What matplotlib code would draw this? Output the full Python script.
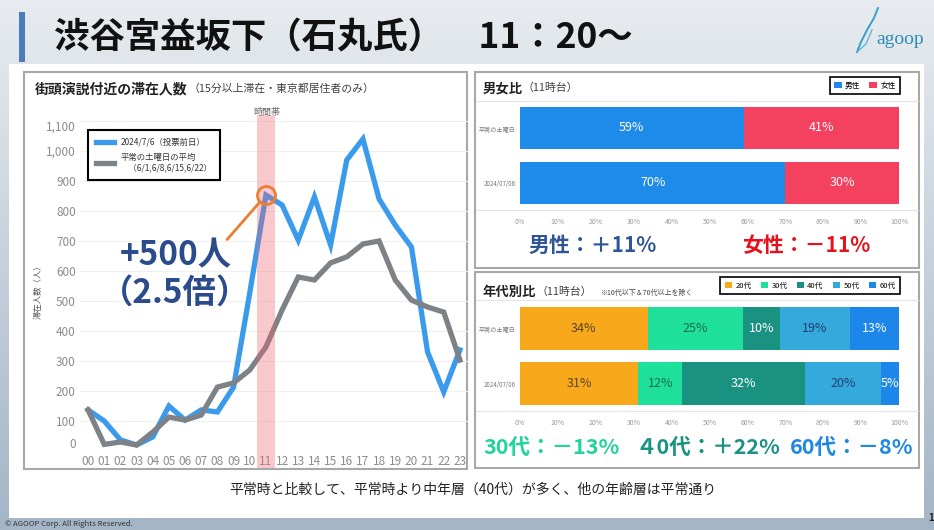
import numpy as np
import matplotlib
matplotlib.use("Agg")
import matplotlib.pyplot as plt
from matplotlib.patches import Rectangle

plt.rcParams['font.family'] = ['Noto Sans CJK JP', 'DejaVu Sans']

# 滞在人数（時間帯別）
hours = ["00", "01", "02", "03", "04", "05", "06", "07", "08", "09", "10", "11",
         "12", "13", "14", "15", "16", "17", "18", "19", "20", "21", "22", "23"]
visitors_0706 = [137, 100, 37, 20, 47, 150, 103, 137, 130, 213, 527, 853,
                 820, 703, 847, 687, 970, 1040, 840, 753, 680, 330, 197, 337]
visitors_sat_avg = [137, 22, 30, 20, 63, 113, 103, 120, 213, 227, 270, 347,
                    470, 580, 570, 627, 647, 690, 700, 570, 503, 480, 463, 303]
y_ticks = [0, 100, 200, 300, 400, 500, 600, 700, 800, 900, 1000, 1100]

# 男女比（11時台）
rows = ["平常の土曜日", "2024/07/06"]
male_pct = [59, 70]
female_pct = [41, 30]

# 年代別比（11時台）
age_groups = ["20代", "30代", "40代", "50代", "60代"]
age_usual = [33.7, 25.2, 9.6, 18.7, 12.9]
age_0706 = [31.2, 11.6, 32.4, 20.1, 4.7]
pct_ticks = [0, 10, 20, 30, 40, 50, 60, 70, 80, 90, 100]

W, H = 934, 530


def fx(x):
    return x / W


def fy(y):
    return 1 - y / H


def box(l, t, r, b):
    return [l / W, 1 - b / H, (r - l) / W, (b - t) / H]


fig = plt.figure(figsize=(W / 100, H / 100), dpi=100)

# 背景（スライド）
bg = fig.add_axes([0, 0, 1, 1])
grad = np.linspace(0, 1, 200)[:, None, None]
top = np.array([0.91, 0.925, 0.94])
bottom = np.array([0.64, 0.71, 0.78])
bg.imshow(top + (bottom - top) * grad, extent=(0, W, H, 0), aspect='auto')
bg.set_xlim(0, W)
bg.set_ylim(H, 0)
bg.set_axis_off()

bg.add_patch(Rectangle((9, 64), 915, 454, facecolor='white', edgecolor='none'))
bg.add_patch(Rectangle((19, 12), 6, 50, facecolor='#4A7EBB', edgecolor='none'))
bg.text(54, 38, "渋谷宮益坂下（石丸氏）　11：20～", fontsize=25.5, fontweight='bold',
        color='#111111', va='center')

# ロゴ
bg.plot([857, 861, 867, 874, 878], [52, 42, 30, 18, 8], color='#3A9EC8', lw=1.4)
bg.plot([857, 866, 872], [52, 44, 30], color='#5BB8D8', lw=1.0)
bg.text(900, 40, "agoop", fontsize=14, family='Liberation Serif', color='#2B8DB8',
        ha='center', va='center')

# パネル枠
for (l, t, w, h) in [(24, 72, 443, 397), (475, 72, 444, 196), (475, 272, 444, 196)]:
    bg.add_patch(Rectangle((l, t), w, h, fill=False, edgecolor='#A8A8A8', lw=1.5))

bg.text(35, 89, "街頭演説付近の滞在人数", fontsize=10, fontweight='bold', color='#222222', va='center')
bg.text(188, 89, "（15分以上滞在・東京都居住者のみ）", fontsize=7.8, color='#404040', va='center')
bg.text(267, 112, "時間帯", fontsize=6.5, color='#666666', ha='center', va='center')
bg.text(38, 290, "滞在人数（人）", fontsize=6, color='#555555', rotation=90, ha='center', va='center')

bg.text(483, 88, "男女比", fontsize=9.6, fontweight='bold', color='#222222', va='center')
bg.text(523, 88, "（11時台）", fontsize=7.8, color='#404040', va='center')
bg.text(483, 292, "年代別比", fontsize=9.6, fontweight='bold', color='#222222', va='center')
bg.text(537, 292, "（11時台）", fontsize=7.8, color='#404040', va='center')
bg.text(600, 293, "※10代以下＆70代以上を除く", fontsize=5, color='#404040', va='center')

for yy in (101, 210, 300, 411):
    bg.plot([476, 918], [yy, yy], color='#E6E6E6', lw=0.8)

bg.text(528, 245, "男性：＋11%", fontsize=15, fontweight='bold', color='#2F5597', va='center')
bg.text(742, 245, "女性：－11%", fontsize=15, fontweight='bold', color='#E8101A', va='center')
bg.text(483, 447, "30代：－13%", fontsize=15.5, fontweight='bold', color='#22D39B', va='center')
bg.text(636, 447, "４0代：＋22%", fontsize=15.5, fontweight='bold', color='#1A9383', va='center')
bg.text(790, 447, "60代：－8%", fontsize=15.5, fontweight='bold', color='#1E88E5', va='center')

bg.text(473, 490, "平常時と比較して、平常時より中年層（40代）が多く、他の年齢層は平常通り",
        fontsize=10, color='#222222', ha='center', va='center')
bg.text(5, 524, "© AGOOP Corp. All Rights Reserved.", fontsize=5.5, color='#333333', va='center')
bg.text(928, 518, "1", fontsize=7, fontweight='bold', color='#222222', va='center')

# 折れ線グラフ
ax = fig.add_axes(box(80, 121, 468, 451))
x = np.arange(len(hours))
l1, = ax.plot(x, visitors_0706, color='#3A9AEC', lw=3.8, solid_joinstyle='miter',
              clip_on=False, label="2024/7/6（投票前日）", zorder=3)
l2, = ax.plot(x, visitors_sat_avg, color='#7E8286', lw=3.8, solid_joinstyle='miter',
              clip_on=False, label="平常の土曜日の平均\n　（6/1,6/8,6/15,6/22）", zorder=4)
ax.axvspan(10.45, 11.55, ymin=-0.052, ymax=1.018, color='#EB6470', alpha=0.35,
           lw=0, clip_on=False, zorder=5)
ax.set_xlim(-0.5, 23.5)
ax.set_ylim(0, 1100)
ax.set_xticks(x)
ax.set_xticklabels(hours)
ax.set_yticks(y_ticks)
ylabels = ax.set_yticklabels([f"{v:,}" for v in y_ticks])
ylabels[0].set_va('bottom')
ylabels[-1].set_va('top')
ax.tick_params(length=0, colors='#8C8C8C', labelsize=8.5)
ax.tick_params(axis='x', pad=3)
ax.tick_params(axis='y', pad=3)
ax.grid(axis='y', color='#F0F0F0', lw=0.8)
ax.set_axisbelow(True)
for s in ax.spines.values():
    s.set_visible(False)
ax.set_facecolor('none')

orange = '#ED7D31'
ax.plot([11], [visitors_0706[11]], marker='o', ms=13, mfc='none', mec=orange, mew=2,
        zorder=6, clip_on=False)
ax.annotate('', xy=(11, visitors_0706[11]), xytext=(8.6, 705),
            arrowprops=dict(arrowstyle='-', color=orange, lw=2, shrinkA=0, shrinkB=6.5),
            zorder=6)
ax.text(5.45, 652, "+500人", fontsize=24, fontweight='bold', color='#2B4C8C',
        ha='center', va='center', zorder=7)
ax.text(5.35, 527, "（2.5倍）", fontsize=24, fontweight='bold', color='#2B4C8C',
        ha='center', va='center', zorder=7)

leg = ax.legend(handles=[l1, l2], loc='upper left', bbox_to_anchor=(fx(88), fy(130)),
                bbox_transform=fig.transFigure, fontsize=6, fancybox=False,
                edgecolor='black', borderaxespad=0, handlelength=2.2,
                borderpad=0.9, labelspacing=0.8, framealpha=1)
leg.get_frame().set_linewidth(1.5)
for t in leg.get_texts():
    t.set_color('#333333')


def style_bar_axes(a):
    a.set_xlim(0, 100)
    a.set_ylim(1.491, -0.509)
    a.set_yticks([0, 1])
    a.set_yticklabels(rows)
    a.set_xticks(pct_ticks)
    a.set_xticklabels([f"{v}%" for v in pct_ticks])
    a.tick_params(length=0, labelsize=5, colors='#9A9A9A')
    a.tick_params(axis='y', pad=3, colors='#777777', labelsize=4.4)
    a.tick_params(axis='x', pad=6)
    for s in a.spines.values():
        s.set_visible(False)
    a.set_facecolor('none')


# 男女比
ax_g = fig.add_axes(box(520, 100, 899, 210))
b_m = ax_g.barh([0, 1], male_pct, height=0.78, color='#1E8BEA', label="男性")
b_f = ax_g.barh([0, 1], female_pct, left=male_pct, height=0.78, color='#F3415F', label="女性")
for bars, vals in [(b_m, male_pct), (b_f, female_pct)]:
    ax_g.bar_label(bars, labels=[f"{v}%" for v in vals], label_type='center',
                   color='white', fontsize=9)
style_bar_axes(ax_g)
leg_g = ax_g.legend(loc='upper right', bbox_to_anchor=(fx(900), fy(77)),
                    bbox_transform=fig.transFigure, ncol=2, fontsize=5.5, fancybox=False,
                    edgecolor='black', borderaxespad=0, handlelength=1, handleheight=1,
                    handletextpad=0.4, columnspacing=1.2, borderpad=0.6, framealpha=1)
leg_g.get_frame().set_linewidth(1.2)

# 年代別比
ax_a = fig.add_axes(box(520, 300, 899, 411))
age_colors = ['#F7A81B', '#1EE09A', '#1A9282', '#35A9DC', '#1C86EA']
age_text = ['#5A4520', '#1B6A4C', 'white', '#1F3F6F', 'white']
left = np.zeros(2)
for i, grp in enumerate(age_groups):
    vals = np.array([age_usual[i], age_0706[i]])
    bars = ax_a.barh([0, 1], vals, left=left, height=0.78, color=age_colors[i], label=grp)
    ax_a.bar_label(bars, labels=[f"{v:.0f}%" for v in vals], label_type='center',
                   color=age_text[i], fontsize=9)
    left = left + vals
style_bar_axes(ax_a)
leg_a = ax_a.legend(loc='upper right', bbox_to_anchor=(fx(900), fy(277)),
                    bbox_transform=fig.transFigure, ncol=5, fontsize=5.5, fancybox=False,
                    edgecolor='black', borderaxespad=0, handlelength=1, handleheight=1,
                    handletextpad=0.4, columnspacing=1.2, borderpad=0.6, framealpha=1)
leg_a.get_frame().set_linewidth(1.2)

fig.savefig("out.png", dpi=100)
